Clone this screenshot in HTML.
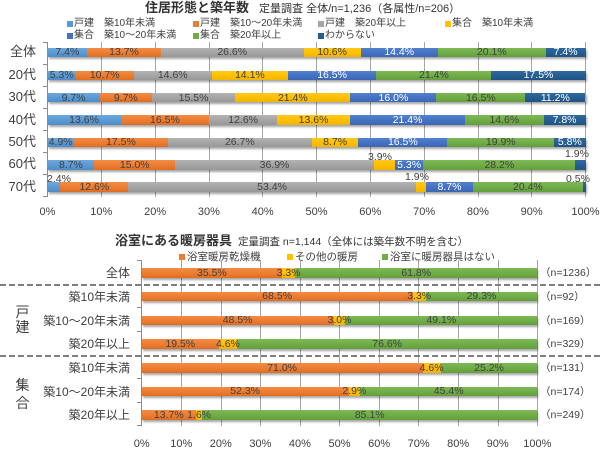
<!DOCTYPE html>
<html><head><meta charset="utf-8">
<style>
*{margin:0;padding:0;box-sizing:border-box}
html,body{width:600px;height:450px;background:#fff;overflow:hidden}
body{position:relative;font-family:"Liberation Sans","Noto Sans CJK JP",sans-serif;color:#404040}
.a{position:absolute;white-space:nowrap}
.gl{position:absolute;width:1px;background:#a6a6a6}
.ax{position:absolute;width:1px;background:#8c8c8c}
.tk{position:absolute;height:1px;width:5px;background:#8c8c8c}
.bar{position:absolute;display:flex;height:9.5px;box-shadow:1px 2px 2px rgba(0,0,0,.35)}
.s{position:relative;min-width:0;height:100%}
.s span{position:absolute;z-index:5;left:50%;top:50%;transform:translate(-50%,-50%);white-space:nowrap;font-size:10.5px;color:#404040;line-height:1}
.c1{background:linear-gradient(#6ea8dc,#5b9bd5 50%,#4f8bc4)}
.c2{background:linear-gradient(#f28c46,#ed7d31 50%,#dc6e24)}
.c3{background:linear-gradient(#b3b3b3,#a5a5a5 50%,#979797)}
.c4{background:linear-gradient(#ffc81f,#ffc000 50%,#f0b400)}
.c5{background:linear-gradient(#5381cc,#4472c4 50%,#3d67b2)}
.c6{background:linear-gradient(#7eb858,#70ad47 50%,#649e3e)}
.c7{background:linear-gradient(#2f6a9e,#255e91 50%,#205384)}
.c5 span,.c7 span{color:#fff}
.sq{position:absolute;width:6px;height:6px}
.lg{position:absolute;font-size:10px;line-height:12px;white-space:nowrap;color:#404040}
.cat{position:absolute;font-size:13px;line-height:16px;text-align:right;width:40px;color:#404040}
.cat2{position:absolute;font-size:12px;line-height:14px;text-align:right;width:120px;color:#404040}
.tl{position:absolute;font-size:11px;line-height:12px;width:40px;text-align:center;color:#404040}
.ol{position:absolute;font-size:10.5px;line-height:11px;white-space:nowrap;transform:translateX(-50%);color:#404040}
.nl{position:absolute;font-size:10.5px;line-height:12px;white-space:nowrap;color:#404040}
</style></head><body>

<!-- ===== TOP CHART ===== -->
<div class="a" style="left:145px;top:0px;line-height:15px;color:#333"><b style="font-size:13px">住居形態と築年数</b><span style="font-size:11px;margin-left:10px">定量調査 全体/n=1,236（各属性/n=206）</span></div>

<!-- legend -->
<div class="sq" style="left:67px;top:21px;background:#5b9bd5"></div><div class="lg" style="left:74px;top:18px">戸建　築10年未満</div>
<div class="sq" style="left:193px;top:21px;background:#ed7d31"></div><div class="lg" style="left:200px;top:18px">戸建　築10〜20年未満</div>
<div class="sq" style="left:318px;top:21px;background:#a5a5a5"></div><div class="lg" style="left:325px;top:18px">戸建　築20年以上</div>
<div class="sq" style="left:445px;top:21px;background:#ffc000"></div><div class="lg" style="left:452px;top:18px">集合　築10年未満</div>
<div class="sq" style="left:67px;top:33px;background:#4472c4"></div><div class="lg" style="left:74px;top:30px">集合　築10〜20年未満</div>
<div class="sq" style="left:193px;top:33px;background:#70ad47"></div><div class="lg" style="left:200px;top:30px">集合　築20年以上</div>
<div class="sq" style="left:318px;top:33px;background:#255e91"></div><div class="lg" style="left:325px;top:30px">わからない</div>

<!-- gridlines -->
<div class="gl" style="left:101px;top:42px;height:155px"></div>
<div class="gl" style="left:155px;top:42px;height:155px"></div>
<div class="gl" style="left:209px;top:42px;height:155px"></div>
<div class="gl" style="left:262px;top:42px;height:155px"></div>
<div class="gl" style="left:316px;top:42px;height:155px"></div>
<div class="gl" style="left:370px;top:42px;height:155px"></div>
<div class="gl" style="left:424px;top:42px;height:155px"></div>
<div class="gl" style="left:478px;top:42px;height:155px"></div>
<div class="gl" style="left:531px;top:42px;height:155px"></div>
<div class="gl" style="left:585px;top:42px;height:155px"></div>
<div class="ax" style="left:47px;top:42px;height:155px"></div>
<div class="tk" style="left:43px;top:42px"></div>
<div class="tk" style="left:43px;top:64px"></div>
<div class="tk" style="left:43px;top:86px"></div>
<div class="tk" style="left:43px;top:108px"></div>
<div class="tk" style="left:43px;top:130px"></div>
<div class="tk" style="left:43px;top:152px"></div>
<div class="tk" style="left:43px;top:174px"></div>
<div class="tk" style="left:43px;top:196px"></div>

<!-- categories -->
<div class="cat" style="left:-4px;top:44px">全体</div>
<div class="cat" style="left:-4px;top:67px">20代</div>
<div class="cat" style="left:-4px;top:89px">30代</div>
<div class="cat" style="left:-4px;top:112px">40代</div>
<div class="cat" style="left:-4px;top:134px">50代</div>
<div class="cat" style="left:-4px;top:156px">60代</div>
<div class="cat" style="left:-4px;top:179px">70代</div>

<!-- bars -->
<div class="bar" style="left:47.5px;top:47.7px;width:538px">
<div class="s c1" style="flex:7.4"><span>7.4%</span></div><div class="s c2" style="flex:13.7"><span>13.7%</span></div><div class="s c3" style="flex:26.6"><span>26.6%</span></div><div class="s c4" style="flex:10.6"><span>10.6%</span></div><div class="s c5" style="flex:14.4"><span>14.4%</span></div><div class="s c6" style="flex:20.1"><span>20.1%</span></div><div class="s c7" style="flex:7.4"><span>7.4%</span></div></div>
<div class="bar" style="left:47.5px;top:70.5px;width:538px">
<div class="s c1" style="flex:5.3"><span>5.3%</span></div><div class="s c2" style="flex:10.7"><span>10.7%</span></div><div class="s c3" style="flex:14.6"><span>14.6%</span></div><div class="s c4" style="flex:14.1"><span>14.1%</span></div><div class="s c5" style="flex:16.5"><span>16.5%</span></div><div class="s c6" style="flex:21.4"><span>21.4%</span></div><div class="s c7" style="flex:17.5"><span>17.5%</span></div></div>
<div class="bar" style="left:47.5px;top:92.8px;width:538px">
<div class="s c1" style="flex:9.7"><span>9.7%</span></div><div class="s c2" style="flex:9.7"><span>9.7%</span></div><div class="s c3" style="flex:15.5"><span>15.5%</span></div><div class="s c4" style="flex:21.4"><span>21.4%</span></div><div class="s c5" style="flex:16.0"><span>16.0%</span></div><div class="s c6" style="flex:16.5"><span>16.5%</span></div><div class="s c7" style="flex:11.2"><span>11.2%</span></div></div>
<div class="bar" style="left:47.5px;top:115px;width:538px">
<div class="s c1" style="flex:13.6"><span>13.6%</span></div><div class="s c2" style="flex:16.5"><span>16.5%</span></div><div class="s c3" style="flex:12.6"><span>12.6%</span></div><div class="s c4" style="flex:13.6"><span>13.6%</span></div><div class="s c5" style="flex:21.4"><span>21.4%</span></div><div class="s c6" style="flex:14.6"><span>14.6%</span></div><div class="s c7" style="flex:7.8"><span>7.8%</span></div></div>
<div class="bar" style="left:47.5px;top:137.6px;width:538px">
<div class="s c1" style="flex:4.9"><span>4.9%</span></div><div class="s c2" style="flex:17.5"><span>17.5%</span></div><div class="s c3" style="flex:26.7"><span>26.7%</span></div><div class="s c4" style="flex:8.7"><span>8.7%</span></div><div class="s c5" style="flex:16.5"><span>16.5%</span></div><div class="s c6" style="flex:19.9"><span>19.9%</span></div><div class="s c7" style="flex:5.8"><span>5.8%</span></div></div>
<div class="bar" style="left:47.5px;top:160px;width:538px">
<div class="s c1" style="flex:8.7"><span>8.7%</span></div><div class="s c2" style="flex:15.0"><span>15.0%</span></div><div class="s c3" style="flex:36.9"><span>36.9%</span></div><div class="s c4" style="flex:3.9"></div><div class="s c5" style="flex:5.3"><span>5.3%</span></div><div class="s c6" style="flex:28.2"><span>28.2%</span></div><div class="s c7" style="flex:1.9"></div></div>
<div class="bar" style="left:47.5px;top:182.3px;width:538px">
<div class="s c1" style="flex:2.4"></div><div class="s c2" style="flex:12.6"><span>12.6%</span></div><div class="s c3" style="flex:53.4"><span>53.4%</span></div><div class="s c4" style="flex:1.9"></div><div class="s c5" style="flex:8.7"><span>8.7%</span></div><div class="s c6" style="flex:20.4"><span>20.4%</span></div><div class="s c7" style="flex:0.5"></div></div>

<!-- outside labels -->
<div class="ol" style="left:380px;top:152px">3.9%</div>
<div class="ol" style="left:577px;top:149px">1.9%</div>
<div class="ol" style="left:59px;top:173.5px">2.4%</div>
<div class="ol" style="left:417px;top:172px">1.9%</div>
<div class="ol" style="left:578px;top:173.5px">0.5%</div>

<!-- x ticks -->
<div class="tl" style="left:27.5px;top:206px">0%</div>
<div class="tl" style="left:81.3px;top:206px">10%</div>
<div class="tl" style="left:135.1px;top:206px">20%</div>
<div class="tl" style="left:188.9px;top:206px">30%</div>
<div class="tl" style="left:242.7px;top:206px">40%</div>
<div class="tl" style="left:296.5px;top:206px">50%</div>
<div class="tl" style="left:350.3px;top:206px">60%</div>
<div class="tl" style="left:404.1px;top:206px">70%</div>
<div class="tl" style="left:457.9px;top:206px">80%</div>
<div class="tl" style="left:511.7px;top:206px">90%</div>
<div class="tl" style="left:565.5px;top:206px">100%</div>

<!-- ===== BOTTOM CHART ===== -->
<div class="a" style="left:115px;top:233px;line-height:15px;color:#333"><b style="font-size:13px">浴室にある暖房器具</b><span style="font-size:10.5px;margin-left:6px">定量調査 n=1,144（全体には築年数不明を含む）</span></div>

<div class="sq" style="left:179px;top:254px;background:#ed7d31"></div><div class="lg" style="left:187px;top:251px;font-size:10.5px">浴室暖房乾燥機</div>
<div class="sq" style="left:287px;top:254px;background:#ffc000"></div><div class="lg" style="left:295px;top:251px;font-size:10.5px">その他の暖房</div>
<div class="sq" style="left:382px;top:254px;background:#70ad47"></div><div class="lg" style="left:390px;top:251px;font-size:10.5px">浴室に暖房器具はない</div>

<div class="gl" style="left:181px;top:260px;height:166px"></div>
<div class="gl" style="left:221px;top:260px;height:166px"></div>
<div class="gl" style="left:260px;top:260px;height:166px"></div>
<div class="gl" style="left:300px;top:260px;height:166px"></div>
<div class="gl" style="left:339px;top:260px;height:166px"></div>
<div class="gl" style="left:379px;top:260px;height:166px"></div>
<div class="gl" style="left:418px;top:260px;height:166px"></div>
<div class="gl" style="left:458px;top:260px;height:166px"></div>
<div class="gl" style="left:498px;top:260px;height:166px"></div>
<div class="gl" style="left:537px;top:260px;height:166px"></div>
<div class="ax" style="left:141px;top:260px;height:166px"></div>
<div class="tk" style="left:137px;top:260px"></div>
<div class="tk" style="left:137px;top:283.5px"></div>
<div class="tk" style="left:137px;top:307px"></div>
<div class="tk" style="left:137px;top:331px"></div>
<div class="tk" style="left:137px;top:354.5px"></div>
<div class="tk" style="left:137px;top:378px"></div>
<div class="tk" style="left:137px;top:402px"></div>
<div class="tk" style="left:137px;top:425px"></div>

<div class="cat2" style="left:10px;top:266px">全体</div>
<div class="cat2" style="left:10px;top:289.5px">築10年未満</div>
<div class="cat2" style="left:10px;top:313.5px">築10〜20年未満</div>
<div class="cat2" style="left:10px;top:337px">築20年以上</div>
<div class="cat2" style="left:10px;top:361px">築10年未満</div>
<div class="cat2" style="left:10px;top:384.5px">築10〜20年未満</div>
<div class="cat2" style="left:10px;top:408px">築20年以上</div>

<div class="a" style="left:15.5px;top:305px;font-size:14px;line-height:15px;width:14px">戸<br>建</div>
<div class="a" style="left:15.5px;top:376px;font-size:14px;line-height:18px;width:14px">集<br>合</div>

<div class="bar" style="left:141.7px;top:268.3px;width:395.6px">
<div class="s c2" style="width:35.5%"><span>35.5%</span></div><div class="s c4" style="width:3.3%"><span>3.3%</span></div><div class="s c6" style="flex:1"><span>61.8%</span></div></div>
<div class="bar" style="left:141.7px;top:291.7px;width:395.6px">
<div class="s c2" style="width:68.5%"><span>68.5%</span></div><div class="s c4" style="width:3.3%"><span>3.3%</span></div><div class="s c6" style="flex:1"><span>29.3%</span></div></div>
<div class="bar" style="left:141.7px;top:315.7px;width:395.6px">
<div class="s c2" style="width:48.5%"><span>48.5%</span></div><div class="s c4" style="width:3.0%"><span>3.0%</span></div><div class="s c6" style="flex:1"><span>49.1%</span></div></div>
<div class="bar" style="left:141.7px;top:339.2px;width:395.6px">
<div class="s c2" style="width:19.5%"><span>19.5%</span></div><div class="s c4" style="width:4.6%"><span>4.6%</span></div><div class="s c6" style="flex:1"><span>76.6%</span></div></div>
<div class="bar" style="left:141.7px;top:363.2px;width:395.6px">
<div class="s c2" style="width:71.0%"><span>71.0%</span></div><div class="s c4" style="width:4.6%"><span>4.6%</span></div><div class="s c6" style="flex:1"><span>25.2%</span></div></div>
<div class="bar" style="left:141.7px;top:386.7px;width:395.6px">
<div class="s c2" style="width:52.3%"><span>52.3%</span></div><div class="s c4" style="width:2.9%"><span>2.9%</span></div><div class="s c6" style="flex:1"><span>45.4%</span></div></div>
<div class="bar" style="left:141.7px;top:410px;width:395.6px">
<div class="s c2" style="width:13.7%"><span>13.7%</span></div><div class="s c4" style="width:1.6%"><span>1.6%</span></div><div class="s c6" style="flex:1"><span>85.1%</span></div></div>

<div class="nl" style="left:540px;top:267px">（n=1236）</div>
<div class="nl" style="left:540px;top:290.5px">（n=92）</div>
<div class="nl" style="left:540px;top:314.5px">（n=169）</div>
<div class="nl" style="left:540px;top:338px">（n=329）</div>
<div class="nl" style="left:540px;top:362px">（n=131）</div>
<div class="nl" style="left:540px;top:385.5px">（n=174）</div>
<div class="nl" style="left:540px;top:409px">（n=249）</div>

<svg class="a" style="left:0;top:0" width="600" height="450">
<line x1="0" y1="285" x2="600" y2="285" stroke="#7f7f7f" stroke-width="2" stroke-dasharray="6,3"/>
<line x1="0" y1="356" x2="600" y2="356" stroke="#7f7f7f" stroke-width="2" stroke-dasharray="6,3"/>
</svg>

<div class="tl" style="left:121.7px;top:438px">0%</div>
<div class="tl" style="left:161.3px;top:438px">10%</div>
<div class="tl" style="left:200.8px;top:438px">20%</div>
<div class="tl" style="left:240.4px;top:438px">30%</div>
<div class="tl" style="left:279.9px;top:438px">40%</div>
<div class="tl" style="left:319.5px;top:438px">50%</div>
<div class="tl" style="left:359.1px;top:438px">60%</div>
<div class="tl" style="left:398.6px;top:438px">70%</div>
<div class="tl" style="left:438.2px;top:438px">80%</div>
<div class="tl" style="left:477.7px;top:438px">90%</div>
<div class="tl" style="left:517.3px;top:438px">100%</div>

</body></html>
